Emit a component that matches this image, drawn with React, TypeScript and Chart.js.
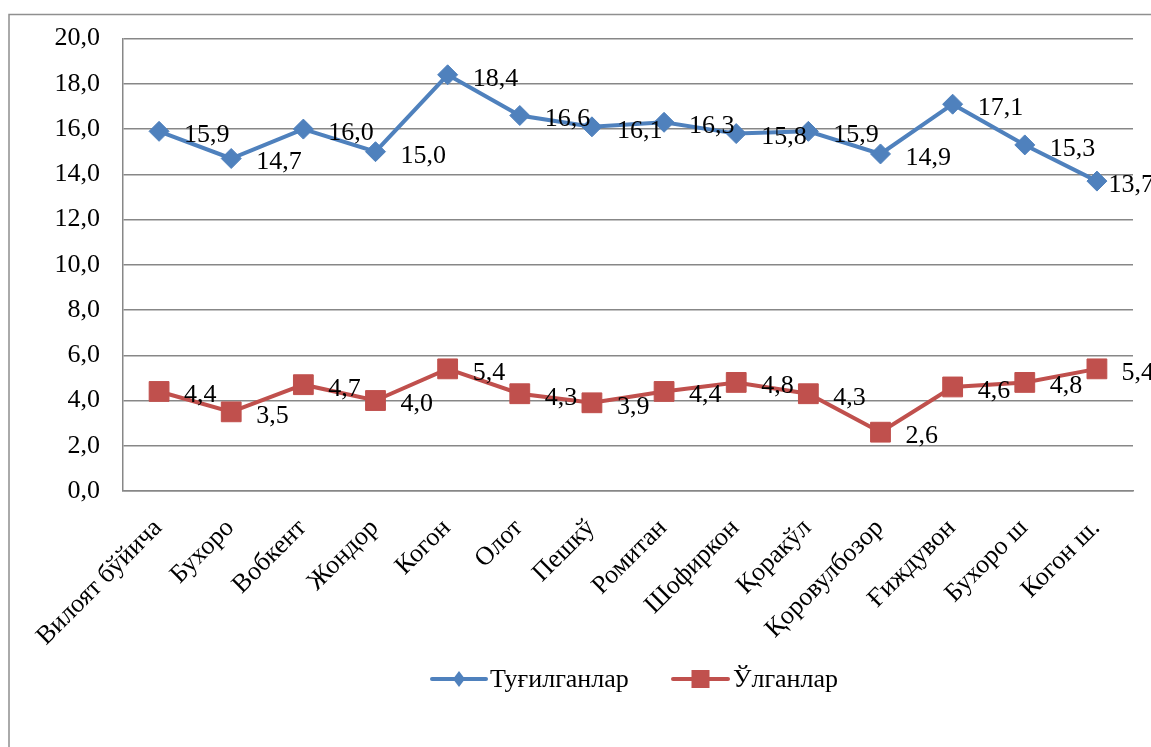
import React, { useEffect, useRef } from "react";
import { Chart, registerables } from "chart.js";

Chart.register(...registerables);

const categories = [
  "Вилоят бўйича",
  "Бухоро",
  "Вобкент",
  "Жондор",
  "Когон",
  "Олот",
  "Пешкў",
  "Ромитан",
  "Шофиркон",
  "Қоракўл",
  "Қоровулбозор",
  "Ғиждувон",
  "Бухоро ш",
  "Когон ш.",
];

const births = [15.9, 14.7, 16.0, 15.0, 18.4, 16.6, 16.1, 16.3, 15.8, 15.9, 14.9, 17.1, 15.3, 13.7];
const deaths = [4.4, 3.5, 4.7, 4.0, 5.4, 4.3, 3.9, 4.4, 4.8, 4.3, 2.6, 4.6, 4.8, 5.4];

const seriesNames = ["Туғилганлар", "Ўлганлар"];
const seriesColors = ["#4F81BD", "#C0504D"];

const FONT = "'Liberation Serif', 'Times New Roman', serif";
const FSIZE = 26;
const GRID = "#878787";

const fmt = (v: number) => v.toFixed(1).replace(".", ",");

const framePlugin = {
  id: "frame",
  beforeDraw(chart: any) {
    const ctx = chart.ctx;
    ctx.save();
    ctx.strokeStyle = "#8f8f8f";
    ctx.lineWidth = 1.5;
    ctx.beginPath();
    ctx.moveTo(9, 800);
    ctx.lineTo(9, 14.5);
    ctx.lineTo(1200, 14.5);
    ctx.stroke();
    ctx.restore();
  },
};

const labelPlugin = {
  id: "valueLabels",
  afterDatasetsDraw(chart: any) {
    const ctx = chart.ctx;
    ctx.save();
    ctx.font = `${FSIZE}px ${FONT}`;
    ctx.fillStyle = "#000";
    ctx.textAlign = "left";
    ctx.textBaseline = "middle";
    chart.data.datasets.forEach((ds: any, i: number) => {
      const meta = chart.getDatasetMeta(i);
      meta.data.forEach((pt: any, j: number) => {
        const txt = fmt(ds.data[j]);
        const w = ctx.measureText(txt).width;
        let x = pt.x + 25;
        if (x + w > 1154) x = Math.max(pt.x + 11, 1154 - w);
        ctx.fillText(txt, x, pt.y + 4);
      });
    });
    ctx.restore();
  },
};

const legendPlugin = {
  id: "customLegend",
  afterDraw(chart: any) {
    const ctx = chart.ctx;
    const y = 679;
    const items = [
      { x0: 432, x1: 486, tx: 490 },
      { x0: 673, x1: 728, tx: 733 },
    ];
    ctx.save();
    items.forEach((it, i) => {
      const c = seriesColors[i];
      ctx.strokeStyle = c;
      ctx.fillStyle = c;
      ctx.lineWidth = 4;
      ctx.lineCap = "round";
      ctx.beginPath();
      ctx.moveTo(it.x0, y);
      ctx.lineTo(it.x1, y);
      ctx.stroke();
      const cx = (it.x0 + it.x1) / 2;
      if (i === 0) {
        ctx.beginPath();
        ctx.moveTo(cx, y - 8);
        ctx.lineTo(cx + 6, y);
        ctx.lineTo(cx, y + 8);
        ctx.lineTo(cx - 6, y);
        ctx.closePath();
        ctx.fill();
      } else {
        ctx.fillRect(cx - 9, y - 9, 18, 18);
      }
      ctx.fillStyle = "#000";
      ctx.font = `${FSIZE}px ${FONT}`;
      ctx.textAlign = "left";
      ctx.textBaseline = "middle";
      ctx.fillText(seriesNames[i], it.tx, y + 1);
    });
    ctx.restore();
  },
};

export default function App() {
  const ref = useRef<HTMLCanvasElement | null>(null);

  useEffect(() => {
    if (!ref.current) return;
    const chart = new Chart(ref.current, {
      type: "line",
      data: {
        labels: categories,
        datasets: [
          {
            label: seriesNames[0],
            data: births,
            borderColor: seriesColors[0],
            backgroundColor: seriesColors[0],
            borderWidth: 4,
            pointStyle: "rectRot",
            pointRadius: 10,
            pointBorderWidth: 1,
            tension: 0,
          },
          {
            label: seriesNames[1],
            data: deaths,
            borderColor: seriesColors[1],
            backgroundColor: seriesColors[1],
            borderWidth: 4,
            pointStyle: "rect",
            pointRadius: 14,
            pointBorderWidth: 1,
            tension: 0,
          },
        ],
      },
      options: {
        animation: false,
        responsive: false,
        devicePixelRatio: 1,
        layout: { padding: { left: 0, top: 38, right: 18, bottom: 0 } },
        plugins: {
          legend: { display: false },
          tooltip: { enabled: false },
        },
        scales: {
          x: {
            type: "category",
            offset: true,
            grid: { display: false, drawTicks: false },
            border: { display: true, color: GRID, width: 1.5 },
            ticks: {
              autoSkip: false,
              maxRotation: 45,
              minRotation: 45,
              padding: 22,
              labelOffset: -1,
              color: "#000",
              font: { family: FONT, size: FSIZE },
            },
            afterFit(scale: any) {
              scale.height = 256;
            },
          },
          y: {
            min: 0,
            max: 20,
            ticks: {
              stepSize: 2,
              padding: 23,
              color: "#000",
              font: { family: FONT, size: FSIZE },
              callback: (v: any) => fmt(Number(v)),
            },
            grid: { color: GRID, lineWidth: 1.5, drawTicks: false },
            border: { display: true, color: GRID, width: 1.5 },
            afterFit(scale: any) {
              scale.width = 123;
            },
          },
        },
      },
      plugins: [framePlugin, labelPlugin, legendPlugin],
    });
    return () => chart.destroy();
  }, []);

  return (
    <div style={{ position: "fixed", left: 0, top: 0, width: 1151, height: 747, background: "#fff" }}>
      <canvas ref={ref} width={1151} height={747} style={{ width: 1151, height: 747, display: "block" }} />
    </div>
  );
}
